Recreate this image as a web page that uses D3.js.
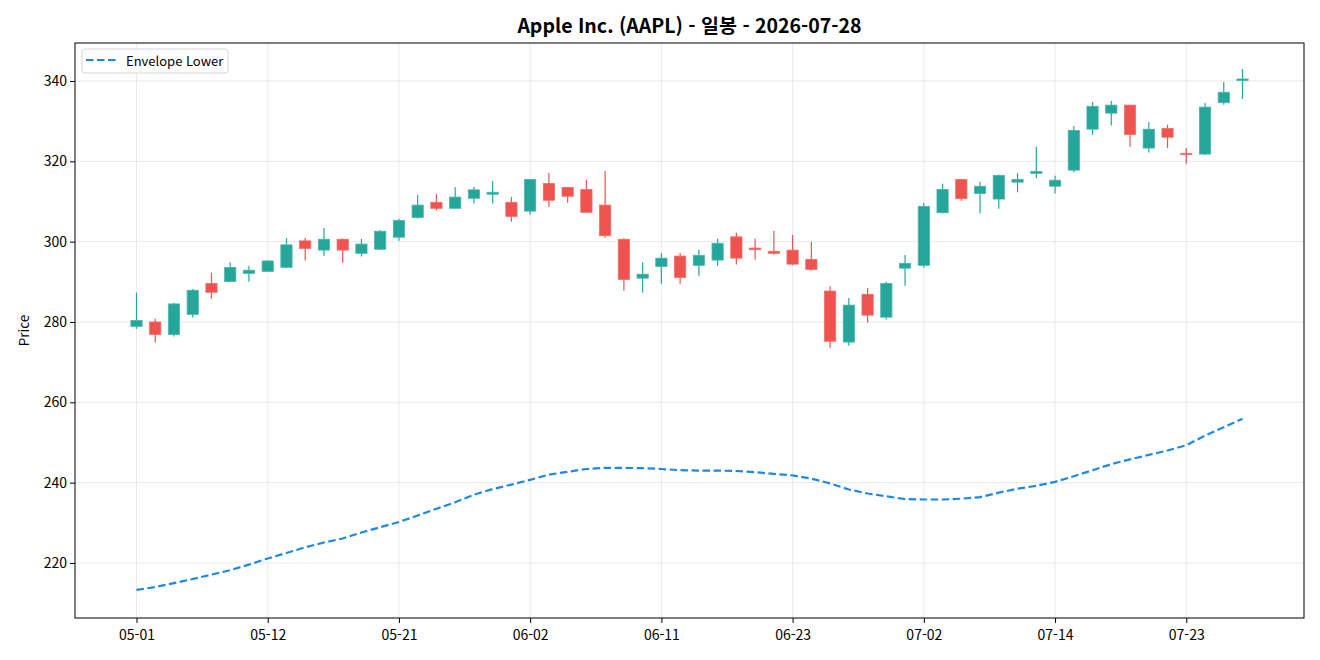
<!DOCTYPE html>
<html lang="ko">
<head>
<meta charset="utf-8">
<title>Apple Inc. (AAPL) - 일봉</title>
<script src="https://d3js.org/d3.v7.min.js"></script>
<style>
  body { margin: 0; background: #fff; }
  svg text { font-family: "Noto Sans CJK KR", "Noto Sans", sans-serif; fill: #000; }
  .grid line { stroke: #e3e3e3; stroke-width: 0.8; }
  .axis path, .axis line { stroke: #000; stroke-width: 1; }
</style>
</head>
<body>
<svg id="chart" width="1320" height="660"></svg>
<script>
// trading days shown on the x axis (MM-DD)
const dates = ["05-01","05-04","05-05","05-06","05-07","05-08","05-11","05-12","05-13","05-14",
  "05-15","05-18","05-19","05-20","05-21","05-22","05-26","05-27","05-28","05-29",
  "06-01","06-02","06-03","06-04","06-05","06-08","06-09","06-10","06-11","06-12",
  "06-15","06-16","06-17","06-18","06-22","06-23","06-24","06-25","06-26","06-29",
  "06-30","07-01","07-02","07-06","07-07","07-08","07-09","07-10","07-13","07-14",
  "07-15","07-16","07-17","07-20","07-21","07-22","07-23","07-24","07-27","07-28"];

const open = [278.9,280.0,276.9,281.9,289.6,290.1,292.1,292.6,293.6,300.2,
  297.9,300.6,297.1,298.1,301.1,306.0,309.8,308.3,310.8,311.8,
  309.8,307.6,314.5,313.5,313.0,309.1,300.6,290.9,293.8,296.4,
  294.1,295.4,301.2,298.4,297.6,297.9,295.6,287.7,275.0,286.9,
  281.2,293.4,294.1,307.2,315.5,312.0,310.6,314.8,317.0,313.8,
  317.8,328.0,332.0,334.0,323.3,328.2,322.0,321.8,334.6,340.1];
const high = [287.3,280.8,284.8,288.2,292.3,294.9,294.0,295.4,300.9,300.9,
  303.4,300.8,300.7,302.9,305.7,311.6,311.9,313.6,313.6,315.1,
  311.1,315.6,317.1,313.7,315.4,317.6,300.8,294.9,297.1,297.2,
  298.0,300.7,302.2,300.7,302.7,301.7,299.9,288.9,286.0,288.5,
  290.0,296.7,309.6,314.4,315.6,314.9,316.7,317.1,323.6,316.4,
  328.8,334.8,335.0,334.0,329.8,329.1,323.3,334.5,339.8,343.0];
const low = [278.3,274.9,276.4,281.1,285.8,290.0,290.0,292.5,293.4,295.3,
  296.5,294.8,296.3,297.9,300.2,305.7,307.7,308.3,309.5,309.5,
  305.0,306.7,308.7,309.7,307.2,301.0,287.8,287.3,289.5,289.5,
  291.5,294.0,294.3,295.5,296.8,294.1,292.8,273.6,274.1,279.8,
  280.6,289.0,293.5,307.0,310.2,307.0,308.2,312.3,315.8,312.0,
  317.3,326.6,328.9,323.6,322.2,323.3,319.4,321.6,334.1,335.5];
const close = [280.4,276.9,284.5,287.9,287.4,293.6,292.9,295.2,299.2,298.3,
  300.6,297.9,299.4,302.6,305.3,309.1,308.3,311.1,312.9,312.3,
  306.3,315.5,310.3,311.3,307.3,301.5,290.6,291.9,295.9,291.1,
  296.6,299.6,295.9,298.0,297.1,294.4,293.1,275.2,284.2,281.7,
  289.6,294.6,308.8,313.0,310.7,313.8,316.5,315.5,317.5,315.3,
  327.7,333.7,334.0,326.7,328.0,326.0,321.7,333.5,337.2,340.5];

const envelopeLower = [213.3,214.0,215.0,216.0,217.1,218.2,219.6,221.1,222.5,223.9,
  225.1,226.1,227.6,228.9,230.2,231.8,233.5,235.1,237.0,238.4,
  239.5,240.7,242.0,242.7,243.4,243.7,243.7,243.6,243.4,243.1,
  243.0,243.0,242.9,242.6,242.2,241.8,241.0,239.8,238.3,237.3,
  236.6,235.9,235.8,235.8,236.0,236.4,237.5,238.5,239.2,240.2,
  241.6,243.1,244.6,245.8,246.9,248.0,249.3,251.7,253.8,255.9];

const yTicks = [220, 240, 260, 280, 300, 320, 340];
const xTickIdx = [0, 7, 14, 21, 28, 35, 42, 49, 56];

const upColor = "#26a69a", downColor = "#ef5350", envColor = "#1e88e5";
const margin = {left: 75, right: 16, top: 43, bottom: 42};
const W = 1320, H = 660;

const svg = d3.select("#chart");
const candles = dates.map((d, i) => ({i, d, o: open[i], h: high[i], l: low[i], c: close[i]}));

const x = d3.scaleLinear().domain([-3.28, 62.28]).range([margin.left, W - margin.right]);
const y = d3.scaleLinear().domain([206.3, 349.46]).range([H - margin.bottom, margin.top]);
const bodyW = x(0.6) - x(0);

// grid
const grid = svg.append("g").attr("class", "grid");
grid.selectAll(".gx").data(xTickIdx).enter().append("line")
  .attr("x1", d => x(d)).attr("x2", d => x(d))
  .attr("y1", margin.top).attr("y2", H - margin.bottom);
grid.selectAll(".gy").data(yTicks).enter().append("line")
  .attr("x1", margin.left).attr("x2", W - margin.right)
  .attr("y1", d => y(d)).attr("y2", d => y(d));

// wicks
svg.append("g").selectAll("line").data(candles).enter().append("line")
  .attr("x1", d => x(d.i)).attr("x2", d => x(d.i))
  .attr("y1", d => y(d.h)).attr("y2", d => y(d.l))
  .attr("stroke", d => d.c >= d.o ? upColor : downColor)
  .attr("stroke-width", 1.2);

// bodies
svg.append("g").selectAll("rect").data(candles).enter().append("rect")
  .attr("x", d => x(d.i) - bodyW / 2)
  .attr("width", bodyW)
  .attr("y", d => y(Math.max(d.o, d.c)))
  .attr("height", d => Math.max(1, Math.abs(y(d.o) - y(d.c))))
  .attr("fill", d => d.c >= d.o ? upColor : downColor)
  .attr("stroke", d => d.c >= d.o ? "#4db6ac" : "#f06e6b")
  .attr("stroke-width", 0.8);

// envelope lower
const line = d3.line().x((d, i) => x(i)).y(d => y(d)).curve(d3.curveLinear);
svg.append("path").datum(envelopeLower)
  .attr("d", line)
  .attr("fill", "none")
  .attr("stroke", envColor)
  .attr("stroke-width", 2.2)
  .attr("stroke-dasharray", "7.5,3.5");

// axes
const xAxis = svg.append("g").attr("class", "axis")
  .attr("transform", `translate(0,${H - margin.bottom})`)
  .call(d3.axisBottom(x).tickValues(xTickIdx).tickFormat(i => dates[i]).tickSize(5).tickSizeOuter(0));
const yAxis = svg.append("g").attr("class", "axis")
  .attr("transform", `translate(${margin.left},0)`)
  .call(d3.axisLeft(y).tickValues(yTicks).tickSize(5).tickSizeOuter(0));
xAxis.select(".domain").remove();
yAxis.select(".domain").remove();
xAxis.selectAll("text").attr("dy", "1.0em").style("font-size", "14px");
yAxis.selectAll("text").style("font-size", "14px");

// frame
svg.append("rect")
  .attr("x", margin.left).attr("y", margin.top)
  .attr("width", W - margin.left - margin.right)
  .attr("height", H - margin.bottom - margin.top)
  .attr("fill", "none").attr("stroke", "#000").attr("stroke-width", 1);

// title and label
svg.append("text")
  .attr("x", (margin.left + W - margin.right) / 2).attr("y", 33)
  .attr("text-anchor", "middle")
  .style("font-size", "19.5px").style("font-weight", "bold")
  .text("Apple Inc. (AAPL) - 일봉 - 2026-07-28");

svg.append("text")
  .attr("transform", `translate(29,${(margin.top + H - margin.bottom) / 2}) rotate(-90)`)
  .attr("text-anchor", "middle")
  .style("font-size", "13.5px")
  .text("Price");

// legend
const lg = svg.append("g").attr("transform", "translate(82,49)");
lg.append("rect").attr("width", 146).attr("height", 24).attr("rx", 3)
  .attr("fill", "#fff").attr("fill-opacity", 0.8)
  .attr("stroke", "#d6d6d6").attr("stroke-width", 1);
lg.append("line").attr("x1", 4).attr("x2", 34).attr("y1", 11).attr("y2", 11)
  .attr("stroke", envColor).attr("stroke-width", 2.2).attr("stroke-dasharray", "7.5,3.5");
lg.append("text").attr("x", 44).attr("y", 16.5)
  .style("font-size", "13px").text("Envelope Lower");
</script>
</body>
</html>
